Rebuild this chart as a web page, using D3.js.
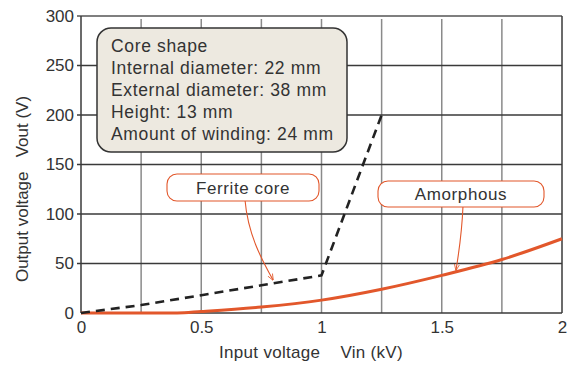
<!DOCTYPE html>
<html>
<head>
<meta charset="utf-8">
<script src="https://cdn.jsdelivr.net/npm/d3@7"></script>
<style>
  body { margin: 0; background: #fff; }
  text { font-family: "Liberation Sans", Arial, sans-serif; fill: #333; }
</style>
</head>
<body>
<div id="chart-area"></div>
<script>
// data
var xTicks = [0, 0.5, 1, 1.5, 2];
var xGrid = [0.25, 0.5, 0.75, 1, 1.25, 1.5, 1.75];
var yTicks = [0, 50, 100, 150, 200, 250, 300];

var ferriteVin = [0, 0.25, 0.5, 0.75, 1, 1.25];
var ferriteVout = [0, 8, 18, 28, 38, 200];

var amorphVin = [0, 0.25, 0.4, 0.5, 0.75, 1, 1.25, 1.5, 1.75, 2];
var amorphVout = [0, 0, 0, 1.5, 6, 13, 24, 38, 54, 75];

var infoLines = [
    "Core shape",
    "Internal diameter: 22 mm",
    "External diameter: 38 mm",
    "Height: 13 mm",
    "Amount of winding: 24 mm"
];

var margin = { top: 16, right: 5, bottom: 52, left: 81 };

var svg = d3.select("#chart-area").append("svg")
    .attr("width", 567)
    .attr("height", 365);

var g = svg.append("g")
    .attr("transform", "translate(" + margin.left + "," + margin.top + ")");

var x = d3.scaleLinear().domain([0, 2]).range([0, 481]);
var y = d3.scaleLinear().domain([0, 300]).range([297, 0]);

// vertical grid (lighter)
g.selectAll(".vgrid").data(xGrid).enter().append("line")
    .attr("x1", d => x(d)).attr("x2", d => x(d))
    .attr("y1", 3).attr("y2", y(0))
    .attr("stroke", "#8a8a8a").attr("stroke-width", 1.5);

// horizontal grid (darker)
g.selectAll(".hgrid").data(yTicks.slice(1, -1)).enter().append("line")
    .attr("x1", -4).attr("x2", x(2))
    .attr("y1", d => y(d)).attr("y2", d => y(d))
    .attr("stroke", "#3a3a3a").attr("stroke-width", 1.3);

// top border, slightly lighter
g.append("line").attr("x1", -4).attr("x2", x(2)).attr("y1", y(300)).attr("y2", y(300))
    .attr("stroke", "#555").attr("stroke-width", 1.3);

// frame
g.append("line").attr("x1", x(2)).attr("x2", x(2)).attr("y1", 0).attr("y2", y(0))
    .attr("stroke", "#3a3a3a").attr("stroke-width", 1.5);
g.append("line").attr("x1", 0).attr("x2", 0).attr("y1", 0).attr("y2", y(0))
    .attr("stroke", "#3a3a3a").attr("stroke-width", 1.5);
g.append("line").attr("x1", 0).attr("x2", x(2)).attr("y1", y(0)).attr("y2", y(0))
    .attr("stroke", "#3a3a3a").attr("stroke-width", 1.5);

// axis labels
var yAxis = g.append("g")
    .call(d3.axisLeft(y).tickValues(yTicks).tickSize(0).tickPadding(7));
yAxis.select(".domain").remove();
yAxis.selectAll("text").style("font-size", "17px").attr("fill", "#333")
    .style("font-family", "Liberation Sans, Arial, sans-serif");

var xAxis = g.append("g")
    .attr("transform", "translate(0," + y(0) + ")")
    .call(d3.axisBottom(x).tickValues(xTicks).tickSize(0).tickPadding(8)
        .tickFormat(d3.format("")));
xAxis.select(".domain").remove();
xAxis.selectAll("text").style("font-size", "17px").attr("fill", "#333")
    .style("font-family", "Liberation Sans, Arial, sans-serif");

// axis titles
svg.append("text")
    .attr("x", 311).attr("y", 358)
    .attr("text-anchor", "middle")
    .style("font-size", "17px")
    .style("letter-spacing", "0.3px")
    .style("white-space", "pre")
    .text("Input voltage    Vin (kV)");

svg.append("text")
    .attr("transform", "translate(28,189) rotate(-90)")
    .attr("text-anchor", "middle")
    .style("font-size", "17px")
    .style("white-space", "pre")
    .text("Output voltage   Vout (V)");

// curves
var ferrite = ferriteVin.map((v, i) => ({ vin: v, vout: ferriteVout[i] }));
var amorph = amorphVin.map((v, i) => ({ vin: v, vout: amorphVout[i] }));

g.append("path")
    .datum(amorph)
    .attr("fill", "none")
    .attr("stroke", "#e2572b")
    .attr("stroke-width", 3)
    .attr("d", d3.line()
        .curve(d3.curveMonotoneX)
        .x(d => x(d.vin))
        .y(d => y(d.vout)));

g.append("path")
    .datum(ferrite)
    .attr("fill", "none")
    .attr("stroke", "#222")
    .attr("stroke-width", 2.6)
    .attr("stroke-dasharray", "9,6")
    .attr("d", d3.line()
        .x(d => x(d.vin))
        .y(d => y(d.vout)));

// info box
svg.append("rect")
    .attr("x", 97).attr("y", 28)
    .attr("width", 250).attr("height", 124)
    .attr("rx", 14).attr("ry", 14)
    .attr("fill", "#ede9e0")
    .attr("stroke", "#333")
    .attr("stroke-width", 1.5);

svg.selectAll(".info").data(infoLines).enter().append("text")
    .attr("x", 111)
    .attr("y", (d, i) => 52 + i * 22)
    .style("font-size", "17.5px")
    .style("letter-spacing", "0.65px")
    .text(d => d);

// callouts
var orange = "#e2572b";
svg.append("defs").append("marker")
    .attr("id", "arrow")
    .attr("viewBox", "0 0 10 10")
    .attr("refX", 9).attr("refY", 5)
    .attr("markerWidth", 6).attr("markerHeight", 6)
    .attr("orient", "auto")
    .append("path")
    .attr("d", "M0,1 L10,5 L0,9")
    .attr("fill", "none")
    .attr("stroke", orange)
    .attr("stroke-width", 1.2);

function callout(bx, by, bw, bh, label, path) {
    svg.append("path")
        .attr("d", path)
        .attr("fill", "none")
        .attr("stroke", orange)
        .attr("stroke-width", 1.1)
        .attr("marker-end", "url(#arrow)");
    svg.append("rect")
        .attr("x", bx).attr("y", by)
        .attr("width", bw).attr("height", bh)
        .attr("rx", 10).attr("ry", 10)
        .attr("fill", "#fff")
        .attr("stroke", orange)
        .attr("stroke-width", 1.1);
    svg.append("text")
        .attr("x", bx + bw / 2).attr("y", by + bh / 2 + 6)
        .attr("text-anchor", "middle")
        .style("font-size", "17px")
        .style("letter-spacing", "0.6px")
        .text(label);
}

callout(167, 174, 152, 27, "Ferrite core", "M245,200 C248,235 262,260 273,280");
callout(378, 181, 166, 26, "Amorphous", "M463,206 C462,230 459,252 456,270");
</script>
</body>
</html>
